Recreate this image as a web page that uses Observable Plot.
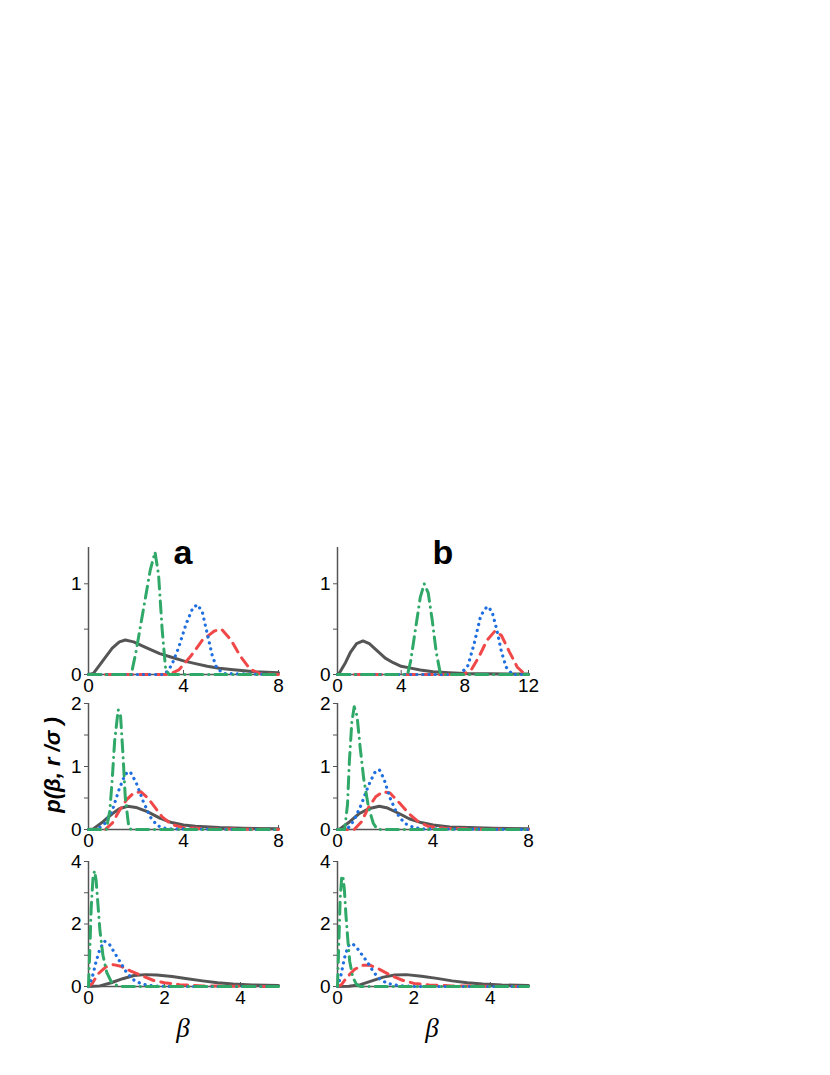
<!DOCTYPE html>
<html>
<head>
<meta charset="utf-8">
<script src="https://cdn.jsdelivr.net/npm/d3@7"></script>
<script src="https://cdn.jsdelivr.net/npm/@observablehq/plot@0.6"></script>
<style>
  html, body { margin: 0; padding: 0; background: #fff; }
  #root { position: relative; width: 830px; height: 1075px; font-family: "Liberation Sans", Arial, sans-serif; }
  .panel { position: absolute; }
  .panel svg text { font-size: 19px; font-family: "Liberation Sans", Arial, sans-serif; fill: #000; }
  .lbl { position: absolute; color: #000; white-space: nowrap; }
</style>
</head>
<body>
<div id="root"></div>
<script>
// ---------- data ([beta, p]) ----------
// Row 1, column a
const a1Gray  = [[0,0],[0.2,0.01],[0.6,0.15],[1.0,0.29],[1.3,0.36],[1.55,0.38],[1.9,0.36],[2.4,0.3],[3.0,0.23],[3.5,0.19],[4.0,0.15],[4.5,0.12],[5.0,0.09],[5.5,0.07],[6.0,0.055],[7.0,0.03],[8,0.02]];
const a1Red   = [[0,0],[3.4,0],[3.8,0.05],[4.3,0.2],[4.8,0.38],[5.3,0.48],[5.6,0.5],[6.0,0.38],[6.4,0.2],[6.8,0.06],[7.2,0.01],[8,0]];
const a1Blue  = [[0,0],[3.2,0],[3.5,0.1],[3.8,0.3],[4.1,0.55],[4.4,0.74],[4.6,0.77],[4.8,0.68],[5.0,0.45],[5.2,0.22],[5.4,0.07],[5.7,0.01],[8,0]];
const a1Green = [[0,0],[1.8,0],[2.0,0.25],[2.3,0.7],[2.6,1.15],[2.8,1.35],[2.95,1.1],[3.1,0.5],[3.25,0.05],[3.4,0],[8,0]];
// Row 1, column b
const b1Gray  = [[0,0],[0.1,0.01],[0.5,0.13],[0.8,0.24],[1.2,0.34],[1.6,0.37],[2.0,0.34],[2.5,0.26],[3.0,0.18],[3.5,0.13],[4.0,0.09],[4.6,0.07],[5.2,0.05],[6.0,0.03],[7.0,0.02],[8.0,0.01],[12,0.005]];
const b1Red   = [[0,0],[7.9,0],[8.4,0.05],[8.9,0.2],[9.4,0.38],[9.9,0.48],[10.3,0.43],[10.8,0.25],[11.3,0.08],[11.8,0],[12,0]];
const b1Blue  = [[0,0],[7.7,0],[8.2,0.1],[8.6,0.35],[9.0,0.65],[9.4,0.75],[9.7,0.7],[10.0,0.5],[10.3,0.25],[10.6,0.08],[11,0],[12,0]];
const b1Green = [[0,0],[4.4,0],[4.6,0.15],[4.9,0.5],[5.2,0.85],[5.45,1.0],[5.7,0.9],[5.95,0.6],[6.2,0.25],[6.45,0.02],[6.6,0],[12,0]];
// Row 2, column a
const a2Gray  = [[0,0],[0.2,0.01],[0.6,0.12],[1.0,0.25],[1.3,0.33],[1.65,0.37],[2.0,0.35],[2.5,0.28],[3.0,0.18],[3.5,0.11],[4.0,0.07],[4.5,0.05],[5.5,0.03],[6.5,0.02],[8,0.01]];
const a2Red   = [[0,0],[0.7,0],[1.0,0.1],[1.3,0.3],[1.6,0.47],[1.9,0.58],[2.2,0.6],[2.5,0.5],[2.8,0.35],[3.1,0.2],[3.5,0.08],[4.0,0.03],[5,0.01],[8,0]];
const a2Blue  = [[0,0],[0.35,0],[0.7,0.1],[1.0,0.3],[1.3,0.65],[1.55,0.88],[1.75,0.92],[2.0,0.75],[2.3,0.45],[2.6,0.2],[2.9,0.06],[3.3,0.01],[8,0]];
const a2Green = [[0,0],[0.75,0],[0.9,0.3],[1.0,0.8],[1.1,1.4],[1.25,1.9],[1.35,1.8],[1.45,1.2],[1.55,0.5],[1.7,0.03],[1.8,0],[8,0]];
// Row 2, column b
const b2Gray  = [[0,0],[0.1,0.01],[0.5,0.12],[0.9,0.25],[1.3,0.33],[1.75,0.37],[2.1,0.34],[2.6,0.25],[3.0,0.17],[3.5,0.11],[4.0,0.07],[4.7,0.04],[5.5,0.03],[6.5,0.02],[8,0.01]];
const b2Red   = [[0,0],[0.7,0],[1.0,0.12],[1.3,0.35],[1.6,0.52],[1.9,0.6],[2.2,0.58],[2.6,0.42],[3.0,0.25],[3.4,0.12],[3.8,0.05],[4.5,0.02],[6,0.005],[8,0]];
const b2Blue  = [[0,0],[0.4,0],[0.7,0.15],[1.0,0.4],[1.3,0.7],[1.55,0.9],[1.75,0.95],[1.95,0.8],[2.2,0.5],[2.5,0.25],[2.8,0.1],[3.2,0.03],[3.6,0.01],[8,0]];
const b2Green = [[0,0],[0.3,0],[0.42,0.4],[0.5,1.1],[0.6,1.7],[0.7,1.95],[0.82,1.8],[0.95,1.3],[1.1,0.8],[1.3,0.35],[1.5,0.1],[1.65,0.01],[1.8,0],[8,0]];
// Row 3, column a
const a3Gray  = [[0,0],[0.3,0.02],[0.6,0.12],[0.9,0.25],[1.2,0.35],[1.5,0.38],[1.8,0.37],[2.2,0.32],[2.6,0.25],[3.0,0.18],[3.4,0.12],[3.8,0.08],[4.3,0.05],[5,0.03]];
const a3Red   = [[0,0],[0.1,0.1],[0.25,0.4],[0.45,0.62],[0.65,0.7],[0.85,0.65],[1.1,0.5],[1.4,0.35],[1.7,0.2],[2.0,0.12],[2.4,0.06],[3,0.02],[4,0.005],[5,0]];
const a3Blue  = [[0,0],[0.1,0.3],[0.2,0.8],[0.3,1.2],[0.42,1.45],[0.55,1.35],[0.7,1.05],[0.85,0.75],[1.0,0.45],[1.2,0.2],[1.4,0.08],[1.7,0.02],[2.2,0],[5,0]];
const a3Green = [[0,0],[0.03,1.0],[0.07,2.5],[0.12,3.5],[0.16,3.7],[0.2,3.4],[0.25,2.6],[0.3,1.8],[0.38,1.0],[0.48,0.45],[0.6,0.15],[0.75,0.03],[0.9,0],[5,0]];
// Row 3, column b
const b3Gray  = [[0,0],[0.3,0.01],[0.6,0.06],[0.9,0.18],[1.2,0.3],[1.5,0.37],[1.8,0.38],[2.2,0.33],[2.6,0.26],[3.0,0.18],[3.4,0.12],[3.8,0.08],[4.3,0.05],[5,0.03]];
const b3Red   = [[0,0],[0.1,0.05],[0.25,0.3],[0.45,0.55],[0.65,0.68],[0.85,0.68],[1.1,0.55],[1.4,0.35],[1.7,0.2],[2.0,0.1],[2.4,0.05],[3,0.02],[4,0.005],[5,0]];
const b3Blue  = [[0,0],[0.08,0.3],[0.18,0.9],[0.28,1.3],[0.38,1.38],[0.5,1.25],[0.65,1.0],[0.8,0.75],[0.95,0.45],[1.1,0.25],[1.3,0.1],[1.6,0.03],[2,0],[5,0]];
const b3Green = [[0,0],[0.03,1.2],[0.07,2.8],[0.11,3.5],[0.14,3.55],[0.18,3.1],[0.22,2.3],[0.27,1.5],[0.32,0.8],[0.4,0.3],[0.5,0.06],[0.6,0],[5,0]];

// axis ticks per row / column
const xTicksA12 = [0, 4, 8];
const xTicksB1  = [0, 4, 8, 12];
const xTicksRow3 = [0, 2, 4];
const yTicksRow1 = [0, 0.5, 1];
const yLabelsRow1 = [0, 1];
const yTicksRow2 = [0, 0.5, 1, 1.5, 2];
const yLabelsRow2 = [0, 1, 2];
const yTicksRow3 = [0, 1, 2, 3, 4];
const yLabelsRow3 = [0, 2, 4];
const panelLetters = ["a", "b"];
const yTitle = "p(β, r /σ )";
const xTitle = "β";

// ---------- drawing ----------
const root = document.getElementById("root");
const COLORS = { gray: "#555555", red: "#f04848", blue: "#1f6fe0", green: "#2fa868" };
const ML = 40, MR = 30, MT = 10, MB = 32;

function panel(left, top, w, h, xDomain, yDomain, xTicks, yTicks, yLabels, gray, red, blue, green) {
  const P = (arr, opts) => Plot.line(arr, { x: d => d[0], y: d => d[1], strokeWidth: 3, strokeLinejoin: "round", ...opts });
  const chart = Plot.plot({
    width: ML + w + MR,
    height: MT + h + MB,
    marginLeft: ML, marginRight: MR, marginTop: MT, marginBottom: MB,
    x: { domain: xDomain },
    y: { domain: yDomain },
    style: { fontFamily: "'Liberation Sans', Arial, sans-serif", fontSize: "19px", color: "#000", background: "transparent", overflow: "visible" },
    marks: [
      Plot.axisY({ ticks: yTicks, tickFormat: d => yLabels.includes(d) ? String(d) : "", tickSize: 4, tickPadding: 3, stroke: "#555" }),
      Plot.axisX({ ticks: xTicks, tickFormat: d => String(d), tickSize: 0, tickPadding: 4 }),
      Plot.tickX(xTicks, { stroke: "#555", strokeWidth: 1, insetTop: h - 4 }),
      Plot.ruleY([0], { stroke: "#555", strokeWidth: 1.5 }),
      Plot.ruleX([xDomain[0]], { stroke: "#555", strokeWidth: 1.5 }),
      P(gray,  { stroke: COLORS.gray }),
      P(red,   { stroke: COLORS.red, strokeDasharray: "10,7" }),
      P(blue,  { stroke: COLORS.blue, strokeDasharray: "0.1,6", strokeLinecap: "round", strokeWidth: 3.2 }),
      P(green, { stroke: COLORS.green, strokeDasharray: "12,6,0.1,6", strokeLinecap: "round" })
    ]
  });
  const div = document.createElement("div");
  div.className = "panel";
  div.style.left = (left - ML) + "px";
  div.style.top = (top - MT) + "px";
  div.appendChild(chart);
  root.appendChild(div);
}

panel(88, 547, 190, 127, [0, 8], [0, 1.4], xTicksA12, yTicksRow1, yLabelsRow1, a1Gray, a1Red, a1Blue, a1Green);
panel(337, 547, 191, 127, [0, 12], [0, 1.4], xTicksB1, yTicksRow1, yLabelsRow1, b1Gray, b1Red, b1Blue, b1Green);
panel(88, 703, 190, 126, [0, 8], [0, 2], xTicksA12, yTicksRow2, yLabelsRow2, a2Gray, a2Red, a2Blue, a2Green);
panel(337, 703, 191, 126, [0, 8], [0, 2], xTicksA12, yTicksRow2, yLabelsRow2, b2Gray, b2Red, b2Blue, b2Green);
panel(88, 861, 190, 125, [0, 5], [0, 4], xTicksRow3, yTicksRow3, yLabelsRow3, a3Gray, a3Red, a3Blue, a3Green);
panel(337, 861, 191, 125, [0, 5], [0, 4], xTicksRow3, yTicksRow3, yLabelsRow3, b3Gray, b3Red, b3Blue, b3Green);

function label(text, cx, cy, css) {
  const d = document.createElement("div");
  d.className = "lbl";
  d.textContent = text;
  Object.assign(d.style, css);
  d.style.left = cx + "px";
  d.style.top = cy + "px";
  d.style.transform = (css.rotate ? "translate(-50%,-50%) rotate(-90deg)" : "translate(-50%,-50%)");
  root.appendChild(d);
}
label(panelLetters[0], 183, 552, { fontSize: "34px", fontWeight: "bold", fontFamily: "'Liberation Sans', Arial, sans-serif" });
label(panelLetters[1], 443, 552, { fontSize: "34px", fontWeight: "bold", fontFamily: "'Liberation Sans', Arial, sans-serif" });
label(yTitle, 53, 765, { fontSize: "22px", fontWeight: "bold", fontStyle: "italic", fontFamily: "'Liberation Sans', Arial, sans-serif", rotate: true });
label(xTitle, 183, 1028, { fontSize: "27px", fontStyle: "italic", fontFamily: "'Liberation Serif', 'DejaVu Serif', serif" });
label(xTitle, 432, 1028, { fontSize: "27px", fontStyle: "italic", fontFamily: "'Liberation Serif', 'DejaVu Serif', serif" });
</script>
</body>
</html>
